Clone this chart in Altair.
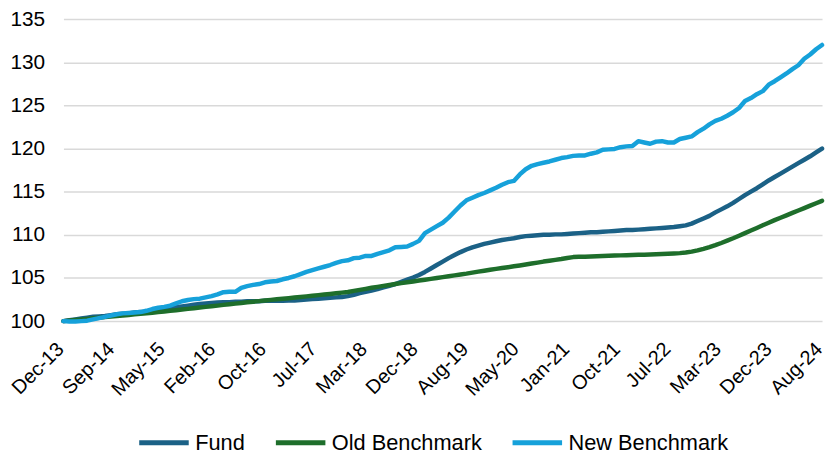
import altair as alt
import pandas as pd

# x-axis tick labels (evenly spaced across the monthly series Dec-13 .. Aug-24)
tick_labels = ["Dec-13", "Sep-14", "May-15", "Feb-16", "Oct-16", "Jul-17", "Mar-18",
               "Dec-18", "Aug-19", "May-20", "Jan-21", "Oct-21", "Jul-22", "Mar-23",
               "Dec-23", "Aug-24"]

series_names = ["Fund", "Old Benchmark", "New Benchmark"]
series_colors = ["#1B6186", "#1E6E2B", "#16A1DA"]

# monthly index values, Dec-13 = 100 (129 months)
fund = [
    100.0, 100.1, 100.2, 100.3, 100.4, 100.5, 100.55, 100.6, 100.7, 100.8,
    100.85, 100.9, 101.0, 101.05, 101.1, 101.2, 101.3, 101.4, 101.5, 101.6,
    101.7, 101.8, 101.9, 102.0, 102.05, 102.1, 102.15, 102.2, 102.2, 102.25,
    102.25, 102.3, 102.3, 102.3, 102.35, 102.35, 102.35, 102.35, 102.4, 102.4,
    102.45, 102.5, 102.55, 102.6, 102.65, 102.7, 102.75, 102.8, 102.9, 103.05,
    103.25, 103.4, 103.55, 103.7, 103.9, 104.1, 104.3, 104.55, 104.8, 105.05,
    105.35, 105.7, 106.1, 106.5, 106.9, 107.3, 107.65, 108.0, 108.3, 108.55,
    108.75, 108.95, 109.1, 109.25, 109.4, 109.5, 109.6, 109.75, 109.85, 109.9,
    109.95, 110.0, 110.0, 110.05, 110.05, 110.1, 110.15, 110.2, 110.25, 110.3,
    110.3, 110.35, 110.4, 110.45, 110.5, 110.55, 110.55, 110.6, 110.65, 110.7,
    110.75, 110.8, 110.85, 110.9, 111.0, 111.1, 111.3, 111.6, 111.9, 112.2,
    112.6, 112.95, 113.3, 113.7, 114.15, 114.6, 115.0, 115.4, 115.85, 116.3,
    116.7, 117.1, 117.5, 117.9, 118.3, 118.7, 119.1, 119.55, 120.0,
]

old_benchmark = [
    100.0, 100.07, 100.13, 100.2, 100.26, 100.33, 100.4, 100.46, 100.52, 100.59,
    100.65, 100.72, 100.78, 100.85, 100.92, 100.98, 101.05, 101.12, 101.2, 101.27,
    101.35, 101.42, 101.5, 101.57, 101.65, 101.72, 101.8, 101.88, 101.95, 102.03,
    102.1, 102.18, 102.25, 102.32, 102.4, 102.46, 102.53, 102.6, 102.66, 102.73,
    102.8, 102.87, 102.94, 103.01, 103.08, 103.15, 103.22, 103.3, 103.38, 103.5,
    103.62, 103.74, 103.86, 103.97, 104.08, 104.19, 104.3, 104.4, 104.5, 104.6,
    104.7, 104.8, 104.9, 105.0, 105.1, 105.2, 105.3, 105.4, 105.5, 105.62,
    105.73, 105.84, 105.95, 106.05, 106.15, 106.25, 106.35, 106.45, 106.56, 106.67,
    106.78, 106.9, 107.0, 107.1, 107.2, 107.32, 107.42, 107.45, 107.47, 107.5,
    107.52, 107.55, 107.57, 107.6, 107.62, 107.64, 107.66, 107.68, 107.7, 107.72,
    107.74, 107.77, 107.8, 107.84, 107.88, 107.95, 108.05, 108.2, 108.38, 108.58,
    108.8, 109.05, 109.32, 109.6, 109.9, 110.2, 110.5, 110.8, 111.1, 111.4,
    111.7, 111.98, 112.26, 112.54, 112.82, 113.1, 113.38, 113.66, 113.94,
]

new_benchmark = [
    100.0, 99.95, 99.95, 100.0, 100.05, 100.2, 100.35, 100.5, 100.65, 100.8,
    100.9, 100.95, 101.0, 101.05, 101.2, 101.4, 101.55, 101.65, 101.8, 102.05,
    102.3, 102.45, 102.55, 102.6, 102.75, 102.9, 103.1, 103.35, 103.4, 103.4,
    103.85, 104.05, 104.2, 104.3, 104.5, 104.6, 104.65, 104.85, 105.0, 105.2,
    105.45, 105.7, 105.9, 106.1, 106.3, 106.5, 106.75, 106.95, 107.05, 107.3,
    107.35, 107.55, 107.55, 107.8, 108.0, 108.2, 108.55, 108.6, 108.65, 108.95,
    109.3, 110.2, 110.6, 111.0, 111.4, 112.0, 112.7, 113.4, 114.0, 114.3,
    114.6, 114.85, 115.15, 115.45, 115.8, 116.1, 116.25, 117.0, 117.6, 118.0,
    118.2, 118.35, 118.5, 118.7, 118.9, 119.0, 119.15, 119.2, 119.2, 119.4,
    119.55, 119.85, 119.9, 119.95, 120.15, 120.25, 120.3, 120.85, 120.7, 120.55,
    120.8, 120.85, 120.7, 120.7, 121.1, 121.25, 121.4, 121.9, 122.3, 122.8,
    123.2, 123.45, 123.8, 124.2, 124.7, 125.5, 125.85, 126.3, 126.65, 127.4,
    127.8, 128.25, 128.7, 129.2, 129.65, 130.4, 130.9, 131.5, 132.0,
]

y_ticks = [100, 105, 110, 115, 120, 125, 130, 135]

rows = []
for name, vals in zip(series_names, [fund, old_benchmark, new_benchmark]):
    for i, v in enumerate(vals):
        rows.append({"month": i, "value": v, "series": name})
df = pd.DataFrame(rows)

last = len(fund) - 1
n_ticks = len(tick_labels)
tick_vals = [k * last / (n_ticks - 1) for k in range(n_ticks)]
label_expr = ("[" + ",".join("'" + t + "'" for t in tick_labels) + "]"
              + f"[round(datum.value*{n_ticks - 1}/{last})]")

FONT = "Liberation Sans"

x_enc = alt.X("month:Q",
              scale=alt.Scale(domain=[0, last], nice=False, zero=False),
              axis=alt.Axis(values=tick_vals, labelExpr=label_expr, labelAngle=-45,
                            labelAlign="right", labelBaseline="alphabetic",
                            labelFontSize=20, labelFont=FONT, labelColor="#000000",
                            labelPadding=29, labelOffset=1, grid=False, ticks=False,
                            domain=False, title=None, labelOverlap=False,
                            labelBound=False, labelFlush=False))
y_enc = alt.Y("value:Q",
              scale=alt.Scale(domain=[100, 135], nice=False, zero=False),
              axis=alt.Axis(values=y_ticks, labelFontSize=21, labelFont=FONT,
                            labelColor="#000000", labelPadding=19, grid=True,
                            gridColor="#D9D9D9", gridWidth=1.5, ticks=False,
                            domain=False, title=None))
color_enc = alt.Color("series:N",
                      scale=alt.Scale(domain=series_names, range=series_colors),
                      legend=alt.Legend(orient="none", direction="horizontal",
                                        legendX=74, legendY=400, padding=0, title=None,
                                        symbolType="stroke", symbolSize=2500,
                                        symbolStrokeWidth=5, labelFontSize=22,
                                        labelFont=FONT, labelColor="#000000",
                                        labelLimit=400, columnPadding=20, labelOffset=4))

layers = []
for name in series_names:
    layers.append(
        alt.Chart(df).transform_filter(alt.datum.series == name)
        .mark_line(strokeWidth=4.5, clip=False, strokeCap="round", strokeJoin="round")
        .encode(x=x_enc, y=y_enc, color=color_enc)
    )

chart = alt.layer(*layers).properties(
    width=766, height=305,
    autosize=alt.AutoSizeParams(type="none"),
    padding={"left": 56, "top": 9, "right": 3, "bottom": 133},
).configure_view(stroke=None)

chart.save("out.html", embed_options={"renderer": "svg", "actions": False})
